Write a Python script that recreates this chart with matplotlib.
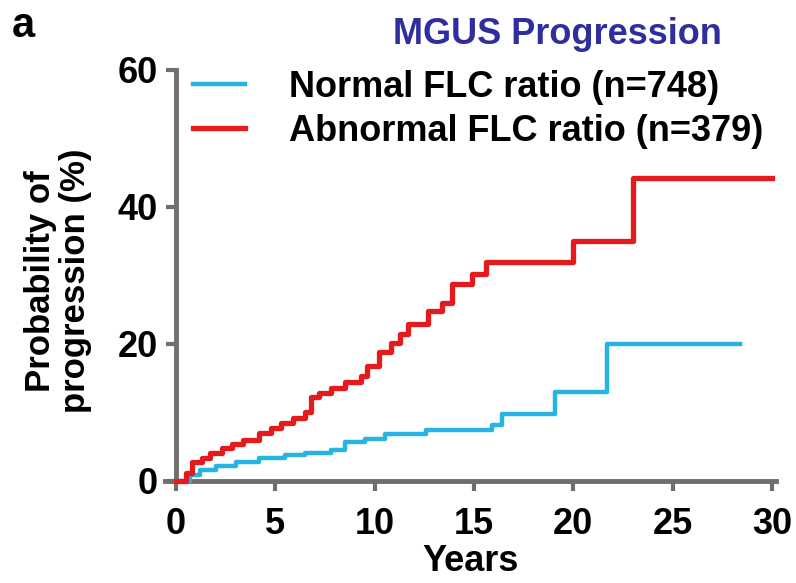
import matplotlib
matplotlib.use("Agg")
from matplotlib import pyplot as plt

# Kaplan-Meier style cumulative progression
years_abnormal = [0, 0.5, 0.8, 1.3, 1.7, 2.3, 2.8, 3.4, 4.2, 4.8, 5.3, 5.9, 6.5, 6.8, 7.2, 7.8,
                  8.5, 9.3, 9.6, 10.2, 10.8, 11.3, 11.7, 12.7, 13.4, 13.9, 14.9, 15.6, 20.0, 23.0, 30.0]
prob_abnormal = [0, 1.2, 2.8, 3.4, 4.1, 4.8, 5.4, 6.0, 7.0, 7.8, 8.5, 9.2, 10.0, 12.3, 12.9, 13.6,
                 14.4, 15.3, 16.8, 18.8, 20.2, 21.5, 22.9, 24.8, 26.0, 28.7, 30.2, 32.0, 35.0, 44.3, 44.3]

years_normal = [0, 0.7, 1.2, 2.0, 3.0, 4.2, 5.5, 6.5, 7.8, 8.5, 9.5, 10.5, 12.6, 15.9, 16.4,
                19.1, 21.7, 28.4]
prob_normal = [0, 0.8, 1.6, 2.2, 2.8, 3.4, 3.8, 4.1, 4.5, 5.7, 6.1, 6.9, 7.4, 8.2, 9.8,
               13.0, 20.0, 20.0]

label_normal = "Normal FLC ratio (n=748)"
label_abnormal = "Abnormal FLC ratio (n=379)"
x_ticks = [0, 5, 10, 15, 20, 25, 30]
y_ticks = [0, 20, 40, 60]

plt.rcParams['font.family'] = ['Liberation Sans', 'DejaVu Sans']
plt.rcParams['font.weight'] = 'bold'

grey = '#6e6e6e'
fig = plt.figure(figsize=(7.96, 5.83), dpi=100)
ax = fig.add_axes([0.2073, 0.175, 0.7676, 0.705])

ax.plot(years_normal, prob_normal, drawstyle='steps-post', color='#27b4e3', linewidth=3.2,
        label=label_normal, zorder=3, clip_on=False)
ax.plot(years_abnormal, prob_abnormal, drawstyle='steps-post', color='#e41a1c', linewidth=3.8,
        label=label_abnormal, zorder=4, clip_on=False)

ax.set_xlim(-0.55, 30.2)
ax.set_ylim(0, 60)
ax.set_xticks(x_ticks)
ax.set_yticks(y_ticks)

for side in ['top', 'right']:
    ax.spines[side].set_visible(False)
ax.spines['left'].set_position(('data', 0))
for side in ['left', 'bottom']:
    ax.spines[side].set_color(grey)
    ax.spines[side].set_linewidth(3.5)
ax.tick_params(axis='both', colors=grey, width=3, length=7, labelsize=26,
               labelcolor='black')
ax.tick_params(axis='x', pad=12)
ax.tick_params(axis='y', pad=6)

ax.set_xlabel('Years', fontsize=26, fontweight='bold', labelpad=1)
ax.set_ylabel('Probability of\nprogression (%)', fontsize=25, fontweight='bold',
              linespacing=1.05)
ax.yaxis.set_label_coords(-0.12, 0.487)

ax.legend(loc='upper left', bbox_to_anchor=(0.046, 1.0), frameon=False, fontsize=26,
          handlelength=1.45, handletextpad=1.2, borderpad=0, borderaxespad=0,
          labelspacing=0.25)

fig.text(0.70, 0.94, 'MGUS Progression', color='#2e2e9e', fontsize=26,
         fontweight='bold', ha='center', va='center')
fig.text(0.015, 0.955, 'a', color='black', fontsize=30, fontweight='bold',
         ha='left', va='center')

fig.savefig('out.png', dpi=100)
